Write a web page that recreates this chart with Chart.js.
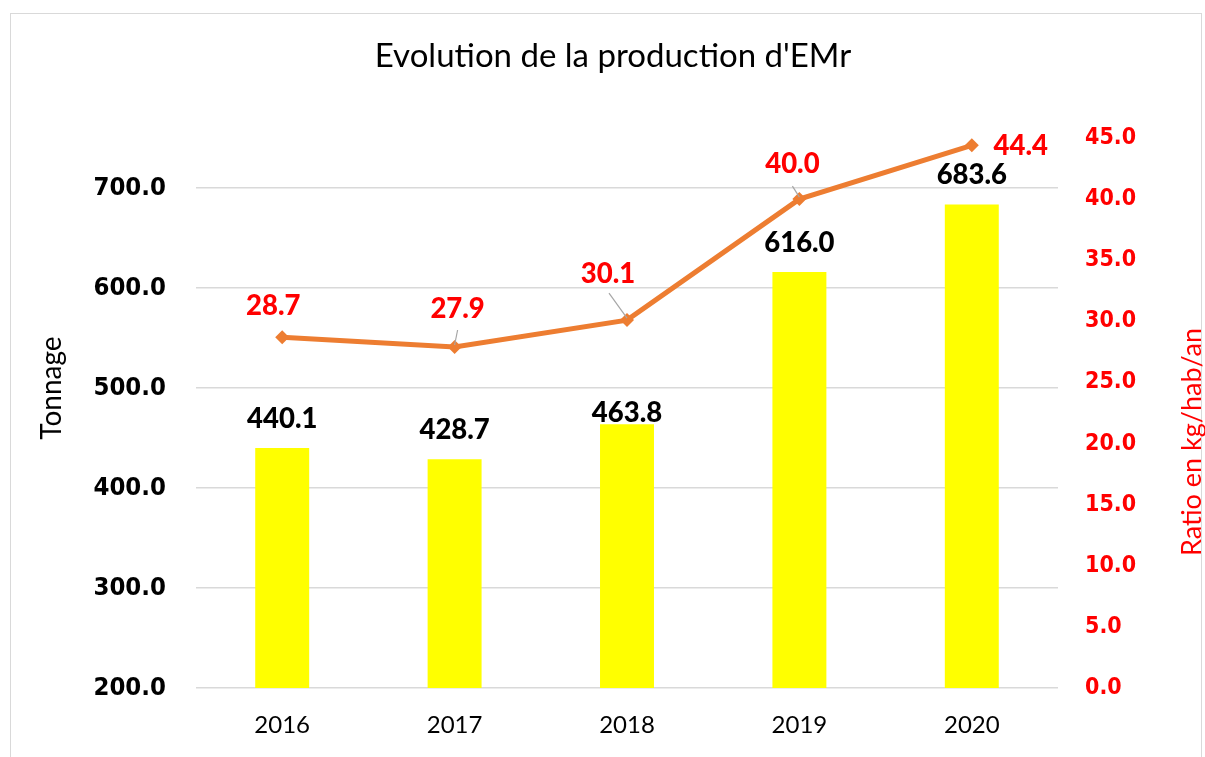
<!DOCTYPE html>
<html>
<head>
<meta charset="utf-8">
<script src="https://cdn.jsdelivr.net/npm/chart.js@4"></script>
<style>
  html, body { margin:0; padding:0; background:#fff; }
  #wrap { position:relative; width:1205px; height:757px; overflow:hidden; }
  #frame { position:absolute; left:10px; top:13px; width:1192px; height:800px;
           border:1px solid #d9d9d9; box-sizing:border-box; }
  canvas { position:absolute; left:0; top:0; }
</style>
</head>
<body>
<div id="wrap"><div id="frame"></div><canvas id="c" width="1205" height="757"></canvas></div>
<script>
// données
const years   = ["2016", "2017", "2018", "2019", "2020"];
const tonnage = [440.1, 428.7, 463.8, 616.0, 683.6];   // barres, axe gauche
const ratio   = [28.7, 27.9, 30.1, 40.0, 44.4];        // courbe, axe droit
const tonnageMin = 200, tonnageMax = 750, tonnageStep = 100, tonnageLastTick = 700;
const ratioMin = 0, ratioMax = 45, ratioStep = 5;

// décalage des étiquettes (comme Excel les a placées)
const barLabelDy   = [-29, -29, -11, -29, -29];
const ratioLabelDx = [-9, 3, -19, -7, 49];
const ratioLabelDy = [-31, -38, -46, -35, 1];
const leaderFrom   = [null, [3, -17], [-18, -27], [-7, -13], null];  // petits traits de rappel

const RED = "#ff0000", ORANGE = "#ed7d31", GRID = "#d9d9d9";
const tickFontL = {family:"'DejaVu Sans Condensed','DejaVu Sans'", size:25.5, weight:"bold"};
const tickFontR = {family:"'DejaVu Sans Condensed','DejaVu Sans'", size:23, weight:"bold"};
const LABEL_FONT = "900 27.5px Lato";
const PAD_LEFT = 21;   // décale le titre comme dans l'original

// étiquettes + titres d'axes dessinés à la main
const extras = {
  id: "extras",
  afterDatasetsDraw(chart){
    const ctx = chart.ctx;
    const bars = chart.getDatasetMeta(1).data, pts = chart.getDatasetMeta(0).data;
    ctx.save();
    ctx.textAlign = "center"; ctx.textBaseline = "middle";
    ctx.font = LABEL_FONT;
    ctx.fillStyle = "#000";
    bars.forEach((b,i) => ctx.fillText(tonnage[i].toFixed(1), b.x, b.y + barLabelDy[i]));
    ctx.strokeStyle = "#a6a6a6"; ctx.lineWidth = 1.2;
    pts.forEach((p,i) => {
      const f = leaderFrom[i]; if(!f) return;
      ctx.beginPath(); ctx.moveTo(p.x + f[0], p.y + f[1]); ctx.lineTo(p.x, p.y - 2); ctx.stroke();
    });
    ctx.fillStyle = RED;
    pts.forEach((p,i) => ctx.fillText(ratio[i].toFixed(1), p.x + ratioLabelDx[i], p.y + ratioLabelDy[i]));

    ctx.fillStyle = "#000";
    ctx.font = "28px Lato";
    ctx.translate(52, 388); ctx.rotate(-Math.PI/2); ctx.fillText("Tonnage", 0, 0);
    ctx.setTransform(1,0,0,1,0,0);
    ctx.fillStyle = RED;
    ctx.font = "27px Lato";
    ctx.translate(1192, 442); ctx.rotate(-Math.PI/2); ctx.fillText("Ratio en kg/hab/an", 0, 0);
    ctx.restore();
  }
};

new Chart(document.getElementById("c"), {
  data: {
    labels: years,
    datasets: [
      {type:"line", label:"Ratio", data:ratio, yAxisID:"yR", order:0,
       borderColor:ORANGE, borderWidth:5, pointStyle:"rectRot", pointRadius:7,
       pointBackgroundColor:ORANGE, pointBorderColor:ORANGE, pointBorderWidth:0, tension:0},
      {type:"bar", label:"Tonnage", data:tonnage, yAxisID:"y", order:1,
       backgroundColor:"#ffff00", barPercentage:0.313, categoryPercentage:1.0}
    ]
  },
  options: {
    responsive:false, animation:false, devicePixelRatio:1,
    layout:{padding:{left:PAD_LEFT, top:0, right:0, bottom:0}},
    plugins:{
      legend:{display:false}, tooltip:{enabled:false},
      title:{display:true, text:"Evolution de la production d'EMr", color:"#000",
             font:{family:"Lato", size:33, weight:"normal", lineHeight:1.2},
             padding:{top:37, bottom:61.4}}
    },
    scales:{
      x:{
        grid:{display:false, drawTicks:false}, border:{display:false},
        ticks:{color:"#000", font:{family:"Lato", size:24}, padding:23},
        afterFit(s){ s.height = 69; }
      },
      y:{
        position:"left", min:tonnageMin, max:tonnageMax,
        grid:{color:GRID, lineWidth:1.5, drawTicks:false}, border:{display:false},
        ticks:{stepSize:tonnageStep, color:"#000", font:tickFontL, padding:30,
               callback:v => v.toFixed(1)},
        afterBuildTicks(s){ s.ticks = s.ticks.filter(t => t.value <= tonnageLastTick); },
        afterFit(s){ s.width = 196 - PAD_LEFT; }
      },
      yR:{
        position:"right", min:ratioMin, max:ratioMax,
        grid:{display:false, drawTicks:false}, border:{display:false},
        ticks:{stepSize:ratioStep, color:RED, font:tickFontR, padding:27,
               callback:v => v.toFixed(1)},
        afterFit(s){ s.width = 147; }
      }
    }
  },
  plugins:[extras]
});
</script>
</body>
</html>
